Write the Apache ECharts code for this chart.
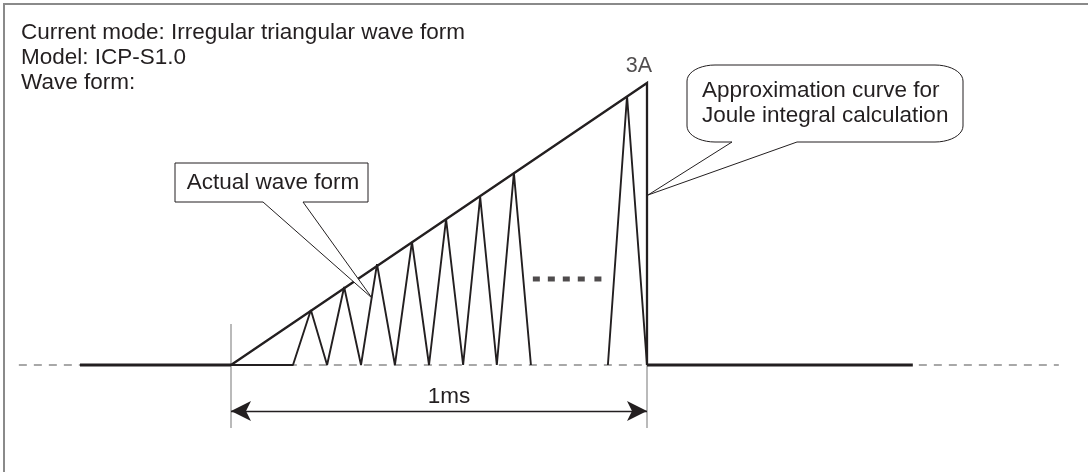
<!DOCTYPE html>
<html>
<head>
<meta charset="utf-8">
<script src="https://cdn.jsdelivr.net/npm/echarts@6/dist/echarts.min.js"></script>
<style>
  html, body { margin: 0; padding: 0; background: #ffffff; }
  #chart { width: 1088px; height: 472px; }
</style>
</head>
<body>
<div id="chart"></div>
<script>
// ---- data (x in ms, y in A) ----
const titleLines = ['Current mode: Irregular triangular wave form', 'Model: ICP-S1.0', 'Wave form:'];
const calloutActualText = 'Actual wave form';
const calloutApproxLines = ['Approximation curve for', 'Joule integral calculation'];
const peakLabel = '3A';
const spanLabel = '1ms';

const baselineRef = [[-0.51, 0], [1.99, 0]];
const preFlat = [[-0.363, 0], [0, 0]];
const postFlat = [[1, 0], [1.639, 0]];
const approxCurve = [[0, 0], [1, 3], [1, 0]];
const actualWaveA = [[0, 0], [0.149, 0], [0.192, 0.585], [0.231, 0], [0.272, 0.83], [0.3125, 0],
  [0.351, 1.074], [0.394, 0], [0.435, 1.309], [0.476, 0], [0.517, 1.553], [0.558, 0],
  [0.599, 1.787], [0.639, 0], [0.68, 2.043], [0.721, 0]];
const actualWaveB = [[0.906, 0], [0.952, 2.862], [1, 0]];
const ellipsisX = [0.734, 0.770, 0.806, 0.842, 0.882];
const ellipsisY = 0.915;
const spanStart = 0;
const spanEnd = 1;
const spanArrowY = -0.49;
const tickTop = 0.436;
const tickBottom = -0.67;
const peakPoint = [1, 3];

const INK = '#231f20';
const GRAY = '#8c8c8c';
const FONT = '"Liberation Sans", Arial, Helvetica, sans-serif';
const FS = 22.5;

// rounded speech-bubble outline (annotation shape, pixel space)
function bubblePoints(l, t, r, b, rx, ry, baseL, baseR, tip) {
  const pts = [];
  function arc(cx, cy, a0, a1) {
    const n = 10;
    for (let i = 0; i <= n; i++) {
      const a = (a0 + (a1 - a0) * i / n) * Math.PI / 180;
      pts.push([cx + rx * Math.cos(a), cy + ry * Math.sin(a)]);
    }
  }
  arc(l + rx, t + ry, 180, 270);
  arc(r - rx, t + ry, 270, 360);
  arc(r - rx, b - ry, 0, 90);
  pts.push([baseR, b], tip, [baseL, b]);
  arc(l + rx, b - ry, 90, 180);
  return pts;
}

const chart = echarts.init(document.getElementById('chart'), null, { renderer: 'canvas' });

const option = {
  animation: false,
  backgroundColor: '#ffffff',
  grid: { left: 2.2, right: 4.2, top: 36, bottom: 13, containLabel: false },
  xAxis: { type: 'value', min: -0.55, max: 2.05, show: false },
  yAxis: { type: 'value', min: -1, max: 3.5, show: false },
  series: [
    { type: 'line', data: baselineRef, symbol: 'none', z: 1,
      lineStyle: { color: GRAY, width: 1.3, type: [8, 7] } },
    { type: 'line', data: [[spanStart, tickTop], [spanStart, tickBottom]], symbol: 'none', z: 1,
      lineStyle: { color: GRAY, width: 1.2 } },
    { type: 'line', data: [[spanEnd, 0], [spanEnd, tickBottom]], symbol: 'none', z: 1,
      lineStyle: { color: GRAY, width: 1.2 } },
    { type: 'line', data: preFlat, symbol: 'none', z: 3,
      lineStyle: { color: INK, width: 2.8 } },
    { type: 'line', data: postFlat, symbol: 'none', z: 3,
      lineStyle: { color: INK, width: 2.8 } },
    { type: 'line', data: approxCurve, symbol: 'none', z: 4,
      lineStyle: { color: INK, width: 2.3, join: 'miter' } },
    { type: 'line', data: actualWaveA, symbol: 'none', z: 3,
      lineStyle: { color: INK, width: 1.9 } },
    { type: 'line', data: actualWaveB, symbol: 'none', z: 3,
      lineStyle: { color: INK, width: 1.9 } },
    { type: 'scatter', data: ellipsisX.map(x => [x, ellipsisY]), symbol: 'rect', symbolSize: [7, 5],
      itemStyle: { color: INK }, z: 3 },
    { type: 'scatter', data: [peakPoint], symbolSize: 0, z: 5,
      label: { show: true, position: 'top', distance: 6, offset: [-8, 0], formatter: peakLabel,
        color: INK, fontFamily: FONT, fontSize: 21.5 } },
    { type: 'line', data: [], symbol: 'none',
      markLine: {
        silent: true, animation: false,
        symbol: ['arrow', 'arrow'], symbolSize: [15, 20],
        lineStyle: { color: INK, width: 1.3, type: 'solid' },
        label: { show: true, position: 'middle', formatter: spanLabel, color: INK,
          fontFamily: FONT, fontSize: FS, distance: 3, offset: [10, 0] },
        data: [[{ coord: [spanStart, spanArrowY] }, { coord: [spanEnd, spanArrowY] }]]
      } }
  ],
  graphic: [
    { type: 'rect', shape: { x: 4, y: 4, width: 1100, height: 1000 }, z: 0, silent: true,
      style: { fill: 'none', stroke: '#8a8a8a', lineWidth: 2 } },
    { type: 'text', x: 21, y: 20.5, z: 10,
      style: { text: titleLines.join('\n'), font: FS + 'px ' + FONT, fill: INK, lineHeight: 25 } },
    { type: 'polygon', z: 10,
      shape: { points: [[175, 163], [368, 163], [368, 202], [303, 202], [372, 298], [263, 202], [175, 202]] },
      style: { fill: '#ffffff', stroke: INK, lineWidth: 1 } },
    { type: 'text', x: 273, y: 183, z: 11,
      style: { text: calloutActualText, font: FS + 'px ' + FONT, fill: INK, align: 'center', verticalAlign: 'middle' } },
    { type: 'polygon', z: 10,
      shape: { points: bubblePoints(687, 65, 963, 142, 28, 16, 732, 797, [648, 195]) },
      style: { fill: '#ffffff', stroke: INK, lineWidth: 1 } },
    { type: 'text', x: 702, y: 78, z: 11,
      style: { text: calloutApproxLines.join('\n'), font: FS + 'px ' + FONT, fill: INK, lineHeight: 25 } }
  ]
};
chart.setOption(option);
</script>
</body>
</html>
